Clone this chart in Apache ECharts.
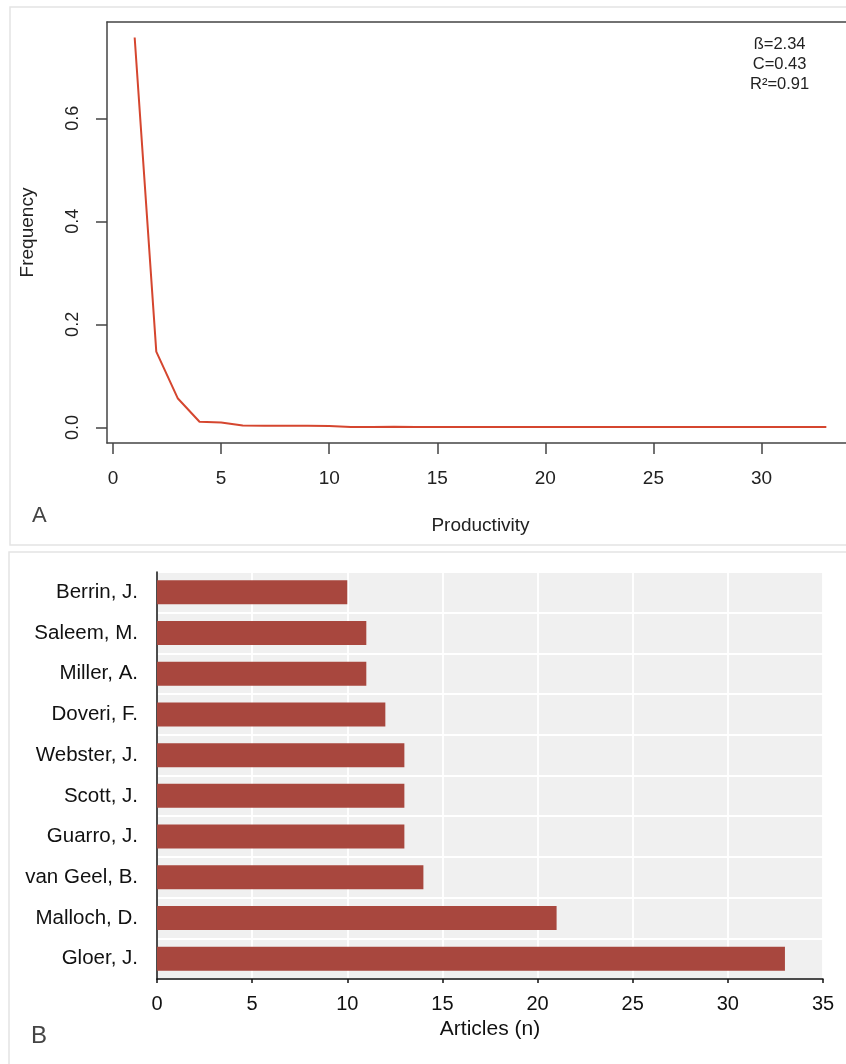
<!DOCTYPE html>
<html>
<head>
<meta charset="utf-8">
<script src="https://cdn.jsdelivr.net/npm/echarts@6/dist/echarts.min.js"></script>
<style>
html,body{margin:0;padding:0;background:#fff;}
#c{width:846px;height:1064px;}
</style>
</head>
<body>
<div id="c"></div>
<script>
// Panel A: Lotka productivity distribution
const prodX = [1, 2, 3, 4, 5, 6, 7, 8, 9, 10, 11, 12, 13, 14, 21, 33];
const prodFreq = [0.757, 0.147, 0.056, 0.011, 0.0097, 0.0035, 0.0032, 0.0031, 0.003, 0.0026, 0.0009, 0.0006, 0.0012, 0.0006, 0.0006, 0.0006];
const xTicksA = [0, 5, 10, 15, 20, 25, 30];
const yTicksA = [0, 0.2, 0.4, 0.6];
const fitStats = ['ß=2.34', 'C=0.43', 'R²=0.91'];

// Panel B: top authors
const authors = ['Berrin, J.', 'Saleem, M.', 'Miller, A.', 'Doveri, F.', 'Webster, J.', 'Scott, J.', 'Guarro, J.', 'van Geel, B.', 'Malloch, D.', 'Gloer, J.'];
const articles = [10, 11, 11, 12, 13, 13, 13, 14, 21, 33];

const FONT = "'Liberation Sans', Arial, sans-serif";
const chart = echarts.init(document.getElementById('c'), null, {renderer: 'canvas'});

const lineData = prodX.map((x, i) => [x, prodFreq[i]]);

chart.setOption({
  animation: false,
  backgroundColor: '#fff',
  textStyle: {fontFamily: FONT},
  graphic: [
    {type: 'rect', shape: {x: 10, y: 7, width: 850, height: 538}, style: {fill: 'none', stroke: '#e4e4e4', lineWidth: 1.5}, silent: true, z: -1},
    {type: 'rect', shape: {x: 9, y: 552, width: 850, height: 520}, style: {fill: 'none', stroke: '#e4e4e4', lineWidth: 1.5}, silent: true, z: -1},
    {type: 'text', left: 780 - 30, top: 34, style: {text: fitStats.join('\n'), x: 30, font: '16.5px ' + FONT, fill: '#222', textAlign: 'center', lineHeight: 20}},
    {type: 'text', left: 32, top: 505, style: {text: 'A', font: '22px ' + FONT, fill: '#444'}},
    {type: 'text', left: 31, top: 1024, style: {text: 'B', font: '24px ' + FONT, fill: '#444'}}
  ],
  grid: [
    {left: 107, top: 22, width: 747, height: 421, show: false, containLabel: false, outerBoundsMode: 'none'},
    {left: 157, top: 572, right: 23, bottom: 85, show: true, backgroundColor: '#f0f0f0', borderWidth: 0, containLabel: false, outerBoundsMode: 'none'}
  ],
  xAxis: [
    {
      gridIndex: 0, type: 'value', min: -0.28, max: 34.28,
      name: 'Productivity', nameLocation: 'middle', nameGap: 73,
      nameTextStyle: {fontSize: 19, color: '#222', fontFamily: FONT},
      axisLine: {show: true, onZero: false, lineStyle: {color: '#444', width: 1.5}},
      axisTick: {show: true, inside: false, length: 11, lineStyle: {color: '#444', width: 1.5}, customValues: xTicksA},
      axisLabel: {fontSize: 19, color: '#222', margin: 26, customValues: xTicksA, fontFamily: FONT},
      splitLine: {show: false}
    },
    {
      gridIndex: 1, type: 'value', min: 0, max: 35, interval: 5,
      name: 'Articles (n)', nameLocation: 'middle', nameGap: 40,
      nameTextStyle: {fontSize: 21, color: '#111', fontFamily: FONT},
      axisLine: {show: true, lineStyle: {color: '#111', width: 1.5}},
      axisTick: {show: true, length: 4, lineStyle: {color: '#111', width: 1.5}},
      axisLabel: {fontSize: 20, color: '#111', margin: 15, fontFamily: FONT},
      splitLine: {show: true, lineStyle: {color: '#ffffff', width: 1.8}}
    },
    {
      gridIndex: 0, type: 'value', position: 'top', min: -0.28, max: 34.28,
      axisLine: {show: true, onZero: false, lineStyle: {color: '#444', width: 1.5}},
      axisTick: {show: false}, axisLabel: {show: false}, splitLine: {show: false}
    }
  ],
  yAxis: [
    {
      gridIndex: 0, type: 'value', min: -0.0303, max: 0.787,
      name: 'Frequency', nameLocation: 'middle', nameGap: 70,
      nameTextStyle: {fontSize: 19, color: '#222', fontFamily: FONT},
      axisLine: {show: true, onZero: false, lineStyle: {color: '#444', width: 1.5}},
      axisTick: {show: true, inside: false, length: 11, lineStyle: {color: '#444', width: 1.5}, customValues: yTicksA},
      axisLabel: {fontSize: 18, color: '#222', rotate: 90, margin: 25, customValues: yTicksA, fontFamily: FONT,
        formatter: v => v.toFixed(1)},
      splitLine: {show: false}
    },
    {
      gridIndex: 1, type: 'category', data: authors, inverse: true,
      axisLine: {show: true, lineStyle: {color: '#111', width: 1.5}},
      axisTick: {show: false},
      axisLabel: {fontSize: 20.5, color: '#111', margin: 19, fontFamily: FONT},
      splitLine: {show: true, interval: 0, lineStyle: {color: '#ffffff', width: 1.8}}
    }
  ],
  series: [
    {
      type: 'line', xAxisIndex: 0, yAxisIndex: 0, data: lineData,
      showSymbol: false, symbol: 'none',
      lineStyle: {color: '#d5462f', width: 2}, z: 3
    },
    {
      type: 'bar', xAxisIndex: 1, yAxisIndex: 1, data: articles,
      barWidth: 24, itemStyle: {color: '#a8473e'}
    }
  ]
});
</script>
</body>
</html>
